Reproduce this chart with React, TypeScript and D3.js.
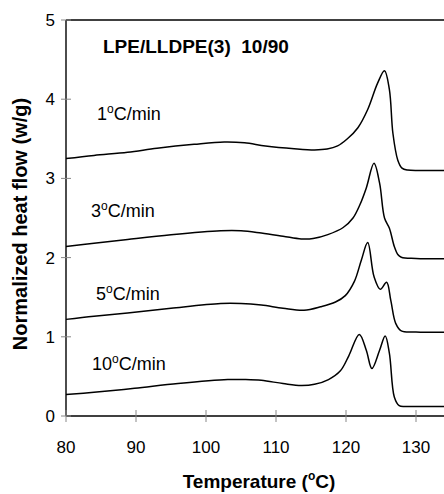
import React from "react";
import * as d3 from "d3";

const xTicks = [80, 90, 100, 110, 120, 130];
const yTicks = [0, 1, 2, 3, 4, 5];

const rate1: [number, number][] = [
  [80, 3.25], [84, 3.29], [88.8, 3.33], [93, 3.38], [98.3, 3.43], [102.6, 3.46], [105.5, 3.45],
  [108.5, 3.41], [112.6, 3.375], [115.5, 3.36], [117.3, 3.37], [118.8, 3.41], [120.2, 3.5],
  [121.7, 3.64], [123.1, 3.87], [124.5, 4.2], [125.5, 4.36], [126.2, 4.12],
  [126.7, 3.57], [127.4, 3.23], [128.0, 3.13], [128.8, 3.105], [131, 3.1], [140, 3.1],
];
const rate3: [number, number][] = [
  [80, 2.14], [84, 2.18], [88.8, 2.23], [95, 2.29], [102.1, 2.34], [105, 2.34], [107.9, 2.31],
  [111, 2.27], [113.6, 2.235], [115.3, 2.24], [117.4, 2.29], [119.6, 2.38], [121.0, 2.5],
  [122.0, 2.67], [122.9, 2.88], [124.0, 3.19], [124.8, 2.94], [125.5, 2.5], [126.2, 2.37],
  [126.9, 2.14], [127.4, 2.04], [127.9, 2.005], [130, 1.99], [140, 1.99],
];
const rate5: [number, number][] = [
  [80, 1.22], [84, 1.26], [88.8, 1.3], [95, 1.36], [102.1, 1.42], [105, 1.42], [107.9, 1.4],
  [111, 1.36], [114.0, 1.335], [116.4, 1.38], [118.5, 1.44], [119.9, 1.52],
  [121.2, 1.7], [122.2, 1.97], [123.1, 2.19], [124.0, 1.76], [124.9, 1.6], [125.8, 1.69],
  [126.4, 1.46], [127.1, 1.17], [127.9, 1.075], [130, 1.06], [140, 1.06],
];
const rate10: [number, number][] = [
  [80, 0.27], [84, 0.3], [89.8, 0.35], [96, 0.41], [103.1, 0.46], [105.5, 0.46], [107.9, 0.45],
  [111, 0.41], [113.6, 0.385], [115.5, 0.4], [117.5, 0.46], [119.2, 0.57], [120.4, 0.76],
  [121.9, 1.03], [122.9, 0.83], [123.7, 0.6], [124.8, 0.83], [125.6, 1.01], [126.2, 0.79],
  [126.9, 0.24], [127.6, 0.13], [128.5, 0.12], [130, 0.12], [140, 0.12],
];

const series = [rate1, rate3, rate5, rate10];
const rateLabels = [
  { rate: "1", x: 97, y: 120 },
  { rate: "3", x: 91, y: 217 },
  { rate: "5", x: 96, y: 300 },
  { rate: "10", x: 92, y: 370 },
];

export default function App() {
  const W = 444, H = 494;
  const x = d3.scaleLinear().domain([80, 140]).range([66, 486]);
  const y = d3.scaleLinear().domain([0, 5]).range([416, 20]);
  const line = d3
    .line<[number, number]>()
    .x((d) => x(d[0]))
    .y((d) => y(d[1]))
    .curve(d3.curveCatmullRom.alpha(0.5));
  const font = "'Liberation Sans', Arial, sans-serif";

  return (
    <svg
      width={W}
      height={H}
      style={{ position: "absolute", left: 0, top: 0, background: "#fff" }}
      fontFamily={font}
    >
      <rect x={0} y={0} width={W} height={H} fill="#fff" />
      {/* frame */}
      <line x1={x(80)} x2={W} y1={y(5)} y2={y(5)} stroke="#000" strokeWidth={1.4} />
      <line x1={x(80)} x2={x(80)} y1={y(5)} y2={y(0)} stroke="#000" strokeWidth={1.4} />
      <line x1={x(80)} x2={W} y1={y(0)} y2={y(0)} stroke="#000" strokeWidth={1.4} />
      {/* y ticks */}
      {yTicks.map((t) => (
        <g key={"y" + t}>
          <line x1={x(80) - 5} x2={x(80) + 5} y1={y(t)} y2={y(t)} stroke="#888" strokeWidth={1} />
          <text x={55} y={y(t) + 6} fontSize={17} textAnchor="end" fill="#000">
            {t}
          </text>
        </g>
      ))}
      {/* x ticks */}
      {xTicks.map((t) => (
        <g key={"x" + t}>
          <line x1={x(t)} x2={x(t)} y1={y(0) - 6} y2={y(0) + 6} stroke="#888" strokeWidth={1} />
          <text x={x(t)} y={453} fontSize={17} textAnchor="middle" fill="#000">
            {t}
          </text>
        </g>
      ))}
      {/* curves */}
      {series.map((s, i) => (
        <path key={i} d={line(s) || ""} fill="none" stroke="#000" strokeWidth={1.5} />
      ))}
      {/* rate labels */}
      {rateLabels.map((r) => (
        <text key={r.rate} x={r.x} y={r.y} fontSize={18} fill="#000">
          {r.rate}
          <tspan fontSize={12} dy={-7}>o</tspan>
          <tspan dy={7}>C/min</tspan>
        </text>
      ))}
      {/* annotation */}
      <text x={103} y={53} fontSize={19} fontWeight="bold" fill="#000" xmlSpace="preserve">
        LPE/LLDPE(3)  10/90
      </text>
      {/* axis titles */}
      <text x={259} y={488} fontSize={19} fontWeight="bold" textAnchor="middle" fill="#000">
        Temperature (<tspan fontSize={12} dy={-8}>o</tspan>
        <tspan dy={8}>C)</tspan>
      </text>
      <text
        transform={`translate(27, 224) rotate(-90)`}
        fontSize={20}
        fontWeight="bold"
        textAnchor="middle"
        fill="#000"
      >
        Normalized heat flow (w/g)
      </text>
    </svg>
  );
}
